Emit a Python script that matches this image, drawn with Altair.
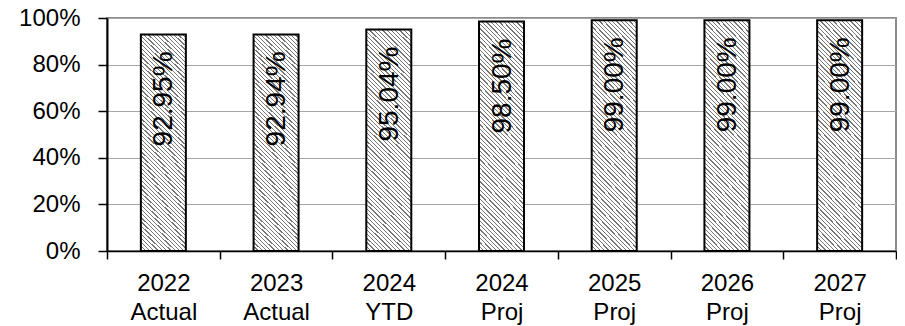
import altair as alt
import pandas as pd

# ---- data ----
years = ["2022", "2023", "2024", "2024", "2025", "2026", "2027"]
kinds = ["Actual", "Actual", "YTD", "Proj", "Proj", "Proj", "Proj"]
values = [92.95, 92.94, 95.04, 98.50, 99.00, 99.00, 99.00]
y_ticks = [0, 20, 40, 60, 80, 100]

categories = [f"{y} {k}" for y, k in zip(years, kinds)]
df = pd.DataFrame({"cat": categories, "val": values})
df["label"] = [f"{v:.2f}%" for v in values]

# ---- hatch fill built as a striped linear gradient (style only) ----
LINE = "#787878"
N_STRIPES = 63
LINE_FRAC = 0.3
R = 5.0  # typical bar height / bar width, sets the 45-degree angle
k = (1 + R) / (1 + R * R)
stops = []
for i in range(N_STRIPES):
    a = round(i / N_STRIPES, 5)
    b = round((i + LINE_FRAC) / N_STRIPES, 5)
    c = round((i + 1) / N_STRIPES, 5)
    stops += [
        alt.GradientStop(offset=a, color=LINE),
        alt.GradientStop(offset=b, color=LINE),
        alt.GradientStop(offset=b, color="#ffffff"),
        alt.GradientStop(offset=c, color="#ffffff"),
    ]
hatch = alt.LinearGradient(
    gradient="linear", stops=stops, x1=0, y1=1, x2=round(k, 5), y2=round(1 - k * R, 5)
)

FONT = "Liberation Sans"

x_enc = alt.X(
    "cat:N",
    sort=categories,
    scale=alt.Scale(paddingInner=0, paddingOuter=0),
    axis=alt.Axis(
        title=None,
        labelAngle=0,
        labelExpr="split(datum.label, ' ')",
        tickBand="extent",
        tickSize=8,
        tickColor="black",
        tickWidth=1.5,
        domainColor="black",
        domainWidth=1.5,
        labelFont=FONT,
        labelFontSize=24,
        labelColor="black",
        labelPadding=12,
        labelLineHeight=29,
        grid=False,
    ),
)
y_enc = alt.Y(
    "val:Q",
    scale=alt.Scale(domain=[0, 100]),
    axis=alt.Axis(
        title=None,
        values=y_ticks,
        labelExpr="datum.value + '%'",
        tickSize=9,
        tickColor="black",
        tickWidth=1.5,
        domainColor="black",
        domainWidth=2,
        labelFont=FONT,
        labelFontSize=24,
        labelColor="black",
        labelPadding=18,
        grid=True,
        gridColor="#a6a6a6",
        gridWidth=1.2,
    ),
)

bars = alt.Chart(df).mark_bar(
    size=45, fill=hatch, stroke="black", strokeWidth=2
).encode(x=x_enc, y=y_enc)

labels = alt.Chart(df).mark_text(
    angle=270, align="right", baseline="middle", dx=-17, dy=1,
    font=FONT, fontSize=28, color="black"
).encode(x=alt.X("cat:N", sort=categories), y=alt.Y("val:Q"), text="label:N")

chart = (
    alt.layer(bars, labels)
    .properties(
        width=789,
        height=233,
        autosize=alt.AutoSizeParams(type="none"),
        padding={"left": 99, "top": 10, "right": 1, "bottom": 75},
    )
    .configure_view(stroke="#8c8c8c", strokeWidth=2)
)

chart.save("out.html", embed_options={"renderer": "svg", "actions": False})
